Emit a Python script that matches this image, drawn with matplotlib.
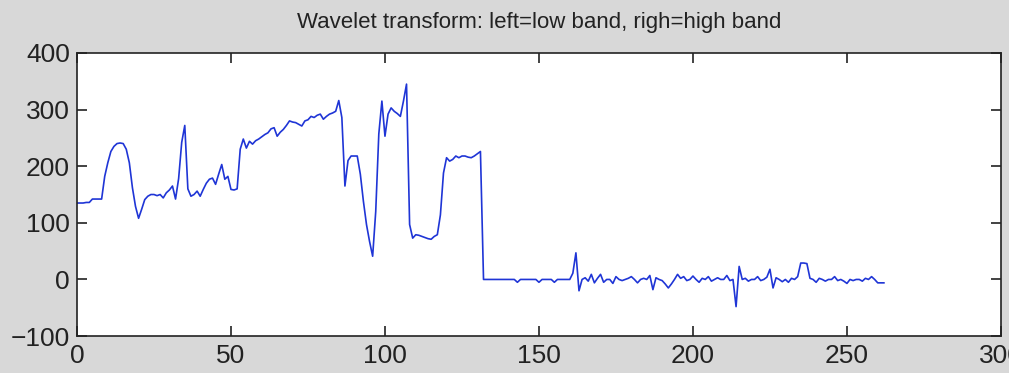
import matplotlib
matplotlib.use("Agg")
import matplotlib.pyplot as plt
import numpy as np


TITLE = "Wavelet transform: left=low band, righ=high band"

# low band (indices 0..131)
low_band = [
    135, 135, 135, 136, 136, 142, 142, 142, 142, 182,
    206, 226, 235, 240, 241, 240, 230, 206, 162, 129,
    108, 124, 141, 147, 150, 150, 148, 150, 144, 153,
    158, 165, 142, 178, 242, 272, 160, 147, 150, 156,
    147, 159, 170, 177, 179, 168, 186, 203, 177, 182,
    159, 158, 160, 230, 248, 232, 244, 239, 245, 248,
    252, 256, 259, 266, 268, 253, 260, 265, 272, 280,
    278, 277, 274, 271, 280, 282, 288, 286, 290, 292,
    283, 288, 292, 294, 297, 316, 286, 165, 210, 218,
    218, 218, 186, 138, 97, 67, 41, 120, 257, 315,
    253, 292, 303, 297, 293, 288, 315, 345, 97, 73,
    79, 78, 76, 74, 72, 71, 76, 79, 114, 188,
    215, 209, 212, 218, 215, 218, 218, 216, 215, 218,
    222, 226,
]

# high band (indices 132..262)
high_band = [
    0, 0, 0, 0, 0, 0, 0, 0, 0, 0,
    0, -5, 0, 0, 0, 0, 0, 0, -5, 0,
    0, 0, 0, -5, 0, 0, 0, 0, 0, 11,
    47, -20, 0, 3, -3, 9, -6, 2, 9, -5,
    0, 0, -7, 5, 0, -2, 0, 2, 5, 0,
    -6, 0, 2, 0, 7, -18, 3, 0, -2, -8,
    -15, -8, 0, 9, 2, 5, -2, 0, 6, 0,
    -5, 2, 0, 5, -3, 0, 3, 0, 0, 7,
    -2, 0, -48, 23, 0, 2, -3, 0, 0, 5,
    -2, 0, 4, 18, -15, 3, 0, -4, 0, -5,
    2, 0, 5, 29, 29, 28, 2, 0, -5, 2,
    0, -3, 0, 0, 5, -2, 0, -3, -7, 0,
    -2, 0, 0, -3, 2, 0, 5, 0, -6, -6,
    -6,
]

x_ticks = [0, 50, 100, 150, 200, 250, 300]
y_ticks = [-100, 0, 100, 200, 300, 400]

signal = np.array(low_band + high_band, dtype=float)
idx = np.arange(len(signal))

plt.rcParams['font.family'] = ['Liberation Sans', 'DejaVu Sans']

fig = plt.figure(figsize=(10.09, 3.73), dpi=100, facecolor='#d8d8d8')
ax = fig.add_axes([0.0763, 0.099, 0.9157, 0.759])
ax.set_facecolor('white')

ax.plot(idx, signal, color='#1f35d6', linewidth=1.2)

ax.set_xlim(0, 300)
ax.set_ylim(-100, 400)
ax.set_xticks(x_ticks)
ax.set_yticks(y_ticks)
ax.tick_params(direction='in', top=True, right=True, length=7, width=1.2,
               labelsize=19, colors='#222222')
ax.tick_params(axis='y', pad=5)
ax.tick_params(axis='x', pad=6)
for s in ax.spines.values():
    s.set_linewidth(1.2)
    s.set_color('#222222')

ax.set_title(TITLE, fontsize=16, pad=18, color='#222222')

fig.savefig('out.png', dpi=100, facecolor=fig.get_facecolor())
